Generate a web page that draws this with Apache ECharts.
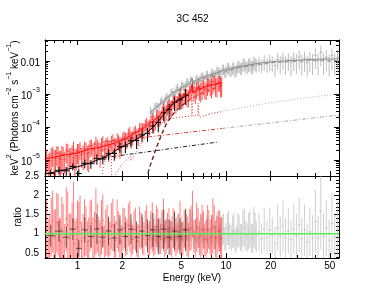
<!DOCTYPE html>
<html><head><meta charset="utf-8">
<script src="https://cdn.jsdelivr.net/npm/echarts@6/dist/echarts.min.js"></script>
<style>html,body{margin:0;padding:0;background:#fff}#c{width:385px;height:298px}</style>
</head><body><div id="c"></div>
<script>
// ---------------- axis ranges and ticks ----------------
const xRange = [0.604, 57.7];
const yTopRange = [3.27e-6, 0.0433];
const yRatioRange = [0.37, 2.5];
const xMajorTicks = [1, 2, 5, 10, 20, 50];
const xMajorLabels = ['1', '2', '5', '10', '20', '50'];
const xMinorTicks = [0.7, 0.8, 0.9, 3, 4, 6, 7, 8, 9, 30, 40];
const yTopMajorTicks = [1e-5, 1e-4, 1e-3, 1e-2];
const yTopMajorLabels = ['{b|10}{s|\u22125}', '{b|10}{s|\u22124}', '{b|10}{s|\u22123}', '{b|0.01}'];
const yTopMinorTicks = [4e-6,5e-6,6e-6,7e-6,8e-6,9e-6,2e-5,3e-5,4e-5,5e-5,6e-5,7e-5,8e-5,9e-5,
  2e-4,3e-4,4e-4,5e-4,6e-4,7e-4,8e-4,9e-4,2e-3,3e-3,4e-3,5e-3,6e-3,7e-3,8e-3,9e-3,0.02,0.03,0.04];
const ratioMajorTicks = [0.5, 1, 1.5, 2, 2.5];
const ratioMajorLabels = ['0.5', '1', '1.5', '2', '2.5'];
const ratioMinorTicks = [0.4,0.6,0.7,0.8,0.9,1.1,1.2,1.3,1.4,1.6,1.7,1.8,1.9,2.1,2.2,2.3,2.4];

// ---------------- data: red group (two interleaved reads) ----------------
const redE = [0.62,0.65,0.68,0.71,0.74,0.77,0.80,0.84,0.88,0.92,0.96,1.00,1.04,1.09,1.14,1.19,1.24,1.30,1.36,1.42,
  1.48,1.55,1.62,1.69,1.77,1.85,1.93,2.02,2.11,2.20,2.30,2.40,2.51,2.62,2.74,2.86,2.99,3.12,3.26,3.40,
  3.55,3.71,3.87,4.04,4.22,4.41,4.60,4.80,5.01,5.23,5.46,5.70,5.95,6.21,6.48,6.76,7.05,7.35,7.66,7.99,
  8.33,8.69,9.06,9.35];
const redFlux = [1.23e-5,9.5e-6,1.57e-5,1.16e-5,1.58e-5,1.04e-5,1.45e-5,1.97e-5,1.29e-5,1.68e-5,
  1.17e-5,1.91e-5,2.24e-5,1.64e-5,2.09e-5,1.70e-5,2.75e-5,2.16e-5,2.69e-5,1.93e-5,
  3.47e-5,2.79e-5,2.45e-5,3.63e-5,2.92e-5,4.31e-5,3.09e-5,4.62e-5,4.27e-5,6.17e-5,
  4.84e-5,6.76e-5,5.62e-5,9.2e-5,8.7e-5,1.20e-4,1.0e-4,1.48e-4,1.41e-4,2.16e-4,
  2.0e-4,2.92e-4,2.75e-4,4.07e-4,3.98e-4,6.17e-4,5.62e-4,7.4e-4,6.9e-4,9.8e-4,
  9.1e-4,1.17e-3,1.70e-3,1.10e-3,1.53e-3,1.38e-3,1.70e-3,1.45e-3,2.02e-3,1.82e-3,
  2.40e-3,1.95e-3,2.34e-3,2.0e-3];
const redRelErr = [0.7,0.8,0.6,0.75,0.65,0.8,0.7,0.6,0.75,0.65,0.8,0.6,0.55,0.7,0.6,0.75,0.5,0.65,0.55,0.7,
  0.5,0.6,0.65,0.5,0.6,0.5,0.65,0.5,0.55,0.45,0.55,0.45,0.5,0.45,0.5,0.4,0.5,0.45,0.55,0.45,
  0.5,0.45,0.55,0.45,0.5,0.45,0.55,0.45,0.5,0.45,0.55,0.5,0.4,0.55,0.45,0.6,0.45,0.55,0.45,0.6,
  0.5,0.6,0.5,0.6];
const redRatio = [1.12,0.83,1.32,0.93,1.23,0.78,1.05,1.38,0.87,1.10,0.74,1.17,1.29,0.89,1.07,0.81,1.26,0.95,1.15,0.79,
  1.35,1.02,0.85,1.20,0.91,1.26,0.83,1.12,0.93,1.23,0.87,1.10,0.81,1.17,0.95,1.15,0.85,1.10,0.89,1.20,
  0.93,1.12,0.87,1.07,0.89,1.15,0.91,1.05,0.87,1.12,0.93,1.10,1.51,0.89,1.15,0.95,1.10,0.87,1.12,0.93,
  1.17,0.91,1.07,0.89];
const redE2 = [0.635,0.665,0.695,0.725,0.755,0.785,0.82,0.86,0.90,0.94,0.98,1.02,1.065,1.115,1.165,1.215,1.27,1.33,1.39,1.45,
  1.515,1.585,1.655,1.73,1.81,1.89,1.975,2.065,2.155,2.25,2.35,2.455,2.565,2.68,2.80,2.925,3.055,3.19,3.33,3.475,
  3.63,3.79,3.955,4.13,4.315,4.505,4.70,4.905,5.12,5.345,5.58,5.825,6.08,6.345,6.62,6.905,7.20,7.505,7.825,8.16,
  8.51,8.875,9.2];
const redFlux2 = [8.8e-6,1.38e-5,1.12e-5,1.63e-5,1.09e-5,1.52e-5,1.08e-5,1.80e-5,1.44e-5,2.09e-5,
  1.36e-5,1.80e-5,1.46e-5,2.19e-5,1.57e-5,2.60e-5,2.0e-5,3.03e-5,2.22e-5,2.92e-5,
  2.10e-5,3.09e-5,2.58e-5,3.84e-5,2.75e-5,3.76e-5,3.05e-5,5.0e-5,4.37e-5,6.41e-5,
  5.0e-5,7.33e-5,5.96e-5,8.9e-5,8.5e-5,1.33e-4,1.12e-4,1.70e-4,1.38e-4,2.14e-4,
  2.04e-4,3.51e-4,3.16e-4,4.73e-4,4.17e-4,6.17e-4,5.89e-4,9.1e-4,7.24e-4,1.01e-3,
  8.5e-4,1.26e-3,1.10e-3,1.51e-3,1.24e-3,1.64e-3,1.38e-3,1.95e-3,1.71e-3,2.40e-3,
  1.82e-3,2.32e-3,1.97e-3];
const redRelErr2 = [0.75,0.65,0.8,0.6,0.7,0.75,0.65,0.7,0.6,0.75,0.65,0.7,0.6,0.65,0.7,0.55,0.6,0.65,0.55,0.6,
  0.55,0.6,0.5,0.55,0.6,0.5,0.55,0.45,0.5,0.55,0.45,0.5,0.55,0.45,0.5,0.45,0.5,0.55,0.45,0.5,
  0.45,0.55,0.5,0.45,0.55,0.5,0.45,0.55,0.5,0.45,0.55,0.5,0.45,0.55,0.5,0.6,0.5,0.55,0.5,0.6,
  0.55,0.5,0.6];
const redRatio2 = [0.79,1.17,0.91,1.29,0.83,1.12,0.76,1.23,0.95,1.35,0.85,1.07,0.81,1.15,0.78,1.20,0.89,1.32,0.93,1.17,
  0.79,1.10,0.87,1.23,0.83,1.05,0.78,1.15,0.91,1.20,0.85,1.12,0.81,1.07,0.87,1.20,0.89,1.17,0.83,1.10,
  0.87,1.23,0.91,1.15,0.85,1.07,0.89,1.20,0.87,1.10,0.83,1.15,0.93,1.17,0.89,1.10,0.85,1.12,0.91,1.20,
  0.87,1.07,0.89];

// ---------------- data: black group ----------------
const blackE = [0.66,0.75,0.84,0.93,1.02,1.12,1.23,1.35,1.48,1.62,1.77,1.93,2.10,2.29,2.50,2.72,2.96,3.22,3.50,3.81,4.14,4.50,4.90,5.35];
const blackFlux = [3.9e-6,4.9e-6,4.7e-6,6.4e-6,3.9e-6,7.9e-6,7.7e-6,1.1e-5,1.07e-5,1.55e-5,1.58e-5,2.54e-5,2.63e-5,3.8e-5,3.9e-5,5.75e-5,6.45e-5,1.07e-4,1.38e-4,2.69e-4,3.39e-4,5.6e-4,6.6e-4,9.3e-4];
const blackRelErr = [0.3,0.25,0.3,0.25,0.35,0.3,0.3,0.35,0.3,0.35,0.4,0.35,0.4,0.35,0.45,0.4,0.45,0.4,0.5,0.45,0.5,0.45,0.5,0.5];
const blackRatio = [0.95,1.07,0.91,1.12,0.62,1.10,0.93,1.12,0.91,1.07,0.89,1.10,0.93,1.12,0.91,1.07,0.95,1.10,0.93,1.12,0.91,1.07,0.93,1.10];

// ---------------- data: grey group (two interleaved reads) ----------------
const grayE = [3.1,3.25,3.4,3.55,3.7,3.85,4.0,4.17,4.35,4.53,4.72,4.92,5.12,5.33,5.55,5.78,6.02,6.27,6.53,6.80,
  7.08,7.37,7.68,8.0,8.33,8.68,9.04,9.42,9.81,10.2,10.6,11.1,11.5,12.0,12.5,13.0,13.6,14.2,14.8,15.4,
  16.0,16.7,17.4,18.1,18.9,19.7,20.5,21.4,22.3,23.2,24.2,25.2,26.3,27.4,28.6,29.8,31.1,32.4,33.8,35.2,
  36.7,38.3,40.0,41.7,43.5,45.4,47.4,49.5,51.7,54.0,56.4];
const grayFlux = [3.13e-4,2.82e-4,4.27e-4,4.22e-4,6.61e-4,6.17e-4,8.32e-4,7.76e-4,1.16e-3,1.10e-3,
  1.60e-3,1.38e-3,1.82e-3,1.74e-3,2.34e-3,2.69e-3,2.11e-3,2.75e-3,2.45e-3,3.31e-3,
  2.99e-3,3.80e-3,3.13e-3,4.17e-3,3.76e-3,5.07e-3,4.52e-3,5.56e-3,4.62e-3,6.17e-3,
  5.31e-3,6.24e-3,5.01e-3,7.08e-3,6.24e-3,8.13e-3,7.0e-3,8.13e-3,7.0e-3,9.44e-3,
  7.76e-3,8.91e-3,7.59e-3,1.0e-2,8.32e-3,1.02e-2,9.12e-3,7.33e-3,1.12e-2,9.23e-3,
  1.20e-2,9.02e-3,1.10e-2,8.81e-3,1.17e-2,1.01e-2,1.32e-2,9.44e-3,1.20e-2,8.75e-3,
  1.16e-2,1.02e-2,1.49e-2,1.01e-2,1.81e-2,1.07e-2,1.32e-2,9.55e-3,1.45e-2,1.05e-2,1.29e-2];
const grayRelErr = [0.3,0.32,0.3,0.28,0.3,0.27,0.3,0.28,0.3,0.27,0.3,0.28,0.27,0.3,0.28,0.3,0.27,0.3,0.28,0.3,
  0.3,0.32,0.3,0.33,0.32,0.35,0.33,0.36,0.35,0.38,0.36,0.4,0.38,0.4,0.38,0.42,0.4,0.44,0.42,0.45,
  0.43,0.47,0.45,0.5,0.48,0.52,0.5,0.55,0.52,0.56,0.55,0.58,0.55,0.6,0.57,0.6,0.58,0.62,0.6,0.62,
  0.6,0.63,0.62,0.64,0.62,0.65,0.63,0.65,0.64,0.65,0.65];
const grayRatio = [1.15,0.85,1.07,0.89,1.20,0.95,1.10,0.87,1.12,0.93,1.17,0.89,1.05,0.91,1.15,1.23,0.89,1.07,0.87,1.10,
  0.93,1.12,0.85,1.07,0.91,1.15,0.95,1.10,0.87,1.12,0.93,1.05,0.81,1.10,0.91,1.15,0.95,1.07,0.89,1.17,
  0.93,1.05,0.87,1.12,0.91,1.10,0.95,0.76,1.15,0.93,1.20,0.89,1.07,0.85,1.12,0.95,1.23,0.87,1.10,0.79,
  1.05,0.91,1.32,0.89,1.58,0.93,1.15,0.83,1.26,0.91,1.12];
const grayE2 = [3.17,3.32,3.47,3.62,3.77,3.92,4.08,4.26,4.44,4.62,4.82,5.02,5.22,5.44,5.66,5.90,6.14,6.40,6.66,6.94,
  7.22,7.52,7.84,8.16,8.50,8.86,9.23,9.61,10.0,10.4,10.85,11.3,11.75,12.25,12.75,13.3,13.9,14.5,15.1,15.7];
const grayFlux2 = [2.66e-4,4.27e-4,4.07e-4,5.75e-4,4.95e-4,7.5e-4,7.5e-4,1.10e-3,9.9e-4,1.40e-3,
  1.27e-3,1.84e-3,1.70e-3,2.32e-3,1.93e-3,2.57e-3,2.09e-3,2.95e-3,2.72e-3,3.55e-3,
  2.95e-3,3.78e-3,3.31e-3,4.5e-3,3.89e-3,4.9e-3,4.17e-3,5.82e-3,5.01e-3,6.43e-3,
  5.19e-3,6.64e-3,5.5e-3,7.11e-3,6.19e-3,8.47e-3,6.79e-3,8.67e-3,6.92e-3,8.75e-3];
const grayRelErr2 = [0.3,0.28,0.3,0.27,0.3,0.28,0.3,0.27,0.28,0.3,0.27,0.3,0.28,0.3,0.27,0.3,0.28,0.3,0.3,0.32,
  0.3,0.32,0.33,0.32,0.34,0.35,0.34,0.36,0.37,0.38,0.37,0.4,0.38,0.4,0.41,0.42,0.41,0.43,0.44,0.45];
const grayRatio2 = [0.89,1.17,0.93,1.12,0.83,1.07,0.91,1.15,0.89,1.10,0.87,1.12,0.93,1.17,0.91,1.12,0.85,1.10,0.93,1.15,
  0.89,1.07,0.87,1.12,0.91,1.07,0.85,1.12,0.93,1.15,0.89,1.10,0.87,1.07,0.89,1.17,0.91,1.12,0.87,1.07];

// ---------------- model curves ----------------
const redModelE = [0.6,0.7,0.82,1.0,1.2,1.4,1.6,1.8,2.0,2.25,2.65,3.1,3.45,3.9,4.4,4.9,5.7,5.84,5.92,6.0,6.45,6.53,6.6,6.7,7.8,9.35];
const redModelF = [1.07e-5,1.23e-5,1.42e-5,1.63e-5,2.15e-5,2.39e-5,2.85e-5,3.27e-5,4.04e-5,5.33e-5,8.1e-5,1.32e-4,1.87e-4,3.27e-4,5.33e-4,7.57e-4,1.07e-3,1.1e-3,1.9e-3,1.13e-3,1.33e-3,1.7e-3,1.38e-3,1.42e-3,1.87e-3,2.2e-3];
const blackModelE = [0.6,0.76,0.99,1.21,1.42,1.66,1.93,2.26,2.64,2.93,3.43,3.88,4.33,4.9,5.6];
const blackModelF = [3.77e-6,4.64e-6,6.14e-6,8.1e-6,1.07e-5,1.52e-5,2.31e-5,3.27e-5,4.98e-5,6.58e-5,1.32e-4,2.65e-4,4.64e-4,7.05e-4,9.3e-4];
const grayModelE = [3.08,3.59,4.39,5.72,5.84,5.92,6.0,6.68,7.8,9.55,12.4,16.2,21.4,27,36.8,45,57.7];
const grayModelF = [2.65e-4,4.98e-4,1.07e-3,2.15e-3,2.2e-3,3.0e-3,2.25e-3,2.95e-3,3.77e-3,5.15e-3,6.8e-3,8.4e-3,9.66e-3,1.035e-2,1.11e-2,1.15e-2,1.15e-2];
// reflection (dotted)
const reflRedE = [1.45,1.50,1.58,1.69,1.70,1.74,1.85,2.0,2.27,2.29,2.45,2.65,3.0,3.4,3.8,4.2,4.8,5.5,5.86,5.89,5.95,5.98,6.46,6.49,6.57,6.60,7.2,8.0,9.35];
const reflRedF = [2.5e-6,7.0e-6,1.2e-5,1.45e-5,2.0e-6,2.5e-6,4.5e-6,7.5e-6,1.3e-5,9.5e-6,1.6e-5,3.0e-5,5.5e-5,1.0e-4,1.45e-4,1.75e-4,1.95e-4,2.1e-4,2.15e-4,1.15e-3,1.15e-3,2.15e-4,2.25e-4,5.3e-4,5.3e-4,1.95e-4,2.2e-4,2.55e-4,2.9e-4];
const reflGrayE = [7.0,8.7,12,16.2,22,30,40,57.7];
const reflGrayF = [2.2e-4,2.85e-4,3.6e-4,4.64e-4,5.8e-4,7.0e-4,8.3e-4,1.02e-3];
// scattered power law (dash-dot)
const scatRedE = [1.5, 9.35];   const scatRedF = [3.5e-5, 9.0e-5];
const scatGrayE = [9.35, 57.7]; const scatGrayF = [9.0e-5, 2.3e-4];
const scatBlackE = [1.48, 8.84]; const scatBlackF = [1.15e-5, 3.5e-5];
// absorbed power law (dashed)
const plRedE = [2.9,3.1,3.4,3.7,4.0,4.5,5.0,5.7,6.7,7.8,9.35];
const plRedF = [2.5e-6,7.5e-6,2.5e-5,6.5e-5,1.4e-4,2.9e-4,4.5e-4,7.0e-4,1.0e-3,1.35e-3,1.75e-3];
const plBlackE = [2.88,3.1,3.4,3.7,4.0,4.5,5.0,5.6];
const plBlackF = [2.5e-6,7.0e-6,2.3e-5,6.0e-5,1.3e-4,2.7e-4,4.2e-4,6.3e-4];
const plGrayE = [4.4,5.7,7.8,12.4,21,36,57.7];
const plGrayF = [8.6e-4,1.86e-3,3.42e-3,6.35e-3,9.0e-3,1.02e-2,1.03e-2];
// unity line in ratio panel
const unityE = [0.604, 57.7]; const unityR = [1, 1];

// ---------------- build ----------------
const L = Math.log10;
const FONT = '"Liberation Sans", Arial, Helvetica, sans-serif';

// merge interleaved reads into one table sorted by energy
function mergeSets(sets) {
  const rows = [];
  sets.forEach(s => s.E.forEach((e, i) => rows.push({e: e, f: s.F[i], r: s.R[i], err: s.err[i]})));
  rows.sort((a, b) => a.e - b.e);
  return rows;
}
function binEdges(rows, i) {
  const E = rows.map(r => r.e);
  const lo = i > 0 ? Math.sqrt(E[i-1]*E[i]) : E[i]*E[i]/Math.sqrt(E[i]*E[i+1]);
  const hi = i < E.length-1 ? Math.sqrt(E[i]*E[i+1]) : E[i]*E[i]/Math.sqrt(E[i-1]*E[i]);
  return [lo, hi];
}
function fluxData(rows) {
  return rows.map((r, i) => { const [lo, hi] = binEdges(rows, i);
    return [L(r.e), L(r.f), L(lo), L(hi), L(r.f*(1-r.err)), L(r.f*(1+r.err))]; });
}
function ratioData(rows) {
  return rows.map((r, i) => { const [lo, hi] = binEdges(rows, i);
    return [L(r.e), r.r, L(lo), L(hi), r.r*(1-r.err), r.r*(1+r.err)]; });
}
const redRows = mergeSets([{E:redE, F:redFlux, R:redRatio, err:redRelErr}, {E:redE2, F:redFlux2, R:redRatio2, err:redRelErr2}]);
const grayRows = mergeSets([{E:grayE, F:grayFlux, R:grayRatio, err:grayRelErr}, {E:grayE2, F:grayFlux2, R:grayRatio2, err:grayRelErr2}]);
const blackRows = mergeSets([{E:blackE, F:blackFlux, R:blackRatio, err:blackRelErr}]);

function crossRender(color) {
  return function (params, api) {
    const cs = params.coordSys;
    const top = cs.y, bot = cs.y + cs.height, left = cs.x, right = cs.x + cs.width;
    const p = api.coord([api.value(0), api.value(1)]);
    const pl = api.coord([api.value(2), api.value(1)]);
    const ph = api.coord([api.value(3), api.value(1)]);
    const pa = api.coord([api.value(0), api.value(4)]);
    const pb = api.coord([api.value(0), api.value(5)]);
    const ch = [];
    if (p[1] >= top && p[1] <= bot) {
      ch.push({type:'line', shape:{x1:Math.max(pl[0], left), y1:p[1], x2:Math.min(ph[0], right), y2:p[1]},
        style:{stroke:color, lineWidth:1}});
    }
    const y1 = Math.max(Math.min(pa[1], pb[1]), top), y2 = Math.min(Math.max(pa[1], pb[1]), bot);
    if (y2 > y1) ch.push({type:'line', shape:{x1:p[0], y1:y1, x2:p[0], y2:y2}, style:{stroke:color, lineWidth:1}});
    return {type:'group', children: ch};
  };
}
function errSeries(data, color, xi, yi, z) {
  return {type:'custom', xAxisIndex:xi, yAxisIndex:yi, data:data, renderItem:crossRender(color),
    encode:{x:0, y:1}, silent:true, z:z, animation:false};
}
function lineSeries(E, V, color, type, xi, yi, logY, z, width) {
  return {type:'line', xAxisIndex:xi, yAxisIndex:yi, showSymbol:false, symbol:'none', silent:true, clip:true,
    data: E.map((e, i) => [L(e), logY ? L(V[i]) : V[i]]),
    lineStyle:{color:color, width:width || 1, type:type}, z:z, animation:false};
}

const labelStyle = {color:'#000', fontSize:10, fontFamily:FONT};
function lookup(vals, labels) {
  return function (v) { for (let i = 0; i < vals.length; i++) if (Math.abs(vals[i]-v) < 1e-6) return labels[i]; return ''; };
}
function xAx(grid, pos, ticks, len, line, labels) {
  const o = {type:'value', gridIndex:grid, position:pos, min:L(xRange[0]), max:L(xRange[1]),
    splitLine:{show:false},
    axisLine:{show:line, onZero:false, lineStyle:{color:'#000', width:1}},
    axisTick:{show:true, inside:true, length:len, customValues:ticks.map(L), lineStyle:{color:'#000', width:1}},
    axisLabel:{show:false}};
  if (labels) {
    o.axisLabel = Object.assign({show:true, margin:3, customValues:xMajorTicks.map(L),
      formatter: lookup(xMajorTicks.map(L), xMajorLabels)}, labelStyle);
    o.name = 'Energy (keV)'; o.nameLocation = 'middle'; o.nameGap = 15; o.nameMoveOverlap = false;
    o.nameTextStyle = {color:'#000', fontSize:10, fontFamily:FONT};
  }
  return o;
}
function yAx(grid, pos, range, ticks, len, line, log) {
  return {type:'value', gridIndex:grid, position:pos, min: log ? L(range[0]) : range[0], max: log ? L(range[1]) : range[1],
    splitLine:{show:false},
    axisLine:{show:line, onZero:false, lineStyle:{color:'#000', width:1}},
    axisTick:{show:true, inside:true, length:len, customValues: log ? ticks.map(L) : ticks, lineStyle:{color:'#000', width:1}},
    axisLabel:{show:false}};
}

const xAxes = [
  xAx(0, 'bottom', xMajorTicks, 5, true), xAx(0, 'bottom', xMinorTicks, 3, false),
  xAx(0, 'top', xMajorTicks, 5, true), xAx(0, 'top', xMinorTicks, 3, false),
  xAx(1, 'bottom', xMajorTicks, 5, true, true), xAx(1, 'bottom', xMinorTicks, 3, false),
  xAx(1, 'top', xMajorTicks, 5, true), xAx(1, 'top', xMinorTicks, 3, false)
];
const richStyle = {b:{fontSize:10, fontFamily:FONT, color:'#000', lineHeight:14, verticalAlign:'bottom'},
                   s:{fontSize:7, fontFamily:FONT, color:'#000', lineHeight:8, verticalAlign:'top'}};
const y0 = yAx(0, 'left', yTopRange, yTopMajorTicks, 5, true, true);
y0.axisLabel = {show:true, margin:5, customValues:yTopMajorTicks.map(L),
  formatter: lookup(yTopMajorTicks.map(L), yTopMajorLabels), rich:richStyle};
y0.name = '{b|keV}{s|2}{b| (Photons cm}{s|\u22122}{b| s}{s|\u22121}{b| keV}{s|\u22121}{b|)}';
y0.nameLocation = 'middle'; y0.nameGap = 25; y0.nameMoveOverlap = false;
y0.nameTextStyle = {rich:richStyle};
const y4 = yAx(1, 'left', yRatioRange, ratioMajorTicks, 5, true, false);
y4.axisLabel = Object.assign({show:true, margin:6, customValues:ratioMajorTicks,
  formatter: lookup(ratioMajorTicks, ratioMajorLabels)}, labelStyle);
y4.name = 'ratio'; y4.nameLocation = 'middle'; y4.nameGap = 22; y4.nameMoveOverlap = false;
y4.nameTextStyle = {color:'#000', fontSize:10, fontFamily:FONT};
const yAxes = [
  y0, yAx(0, 'left', yTopRange, yTopMinorTicks, 3, false, true),
  yAx(0, 'right', yTopRange, yTopMajorTicks, 5, true, true), yAx(0, 'right', yTopRange, yTopMinorTicks, 3, false, true),
  y4, yAx(1, 'left', yRatioRange, ratioMinorTicks, 3, false, false),
  yAx(1, 'right', yRatioRange, ratioMajorTicks, 5, true, false), yAx(1, 'right', yRatioRange, ratioMinorTicks, 3, false, false)
];

const series = [
  errSeries(fluxData(grayRows), 'rgba(165,165,165,0.75)', 0, 0, 2),
  errSeries(fluxData(redRows), 'rgba(255,0,0,0.7)', 0, 0, 3),
  errSeries(fluxData(blackRows), '#000', 0, 0, 4),
  lineSeries(reflRedE, reflRedF, 'rgba(220,40,40,0.9)', [1, 2], 0, 0, true, 5),
  lineSeries(reflGrayE, reflGrayF, '#b0b0b0', [1, 2], 0, 0, true, 5),
  lineSeries(scatRedE, scatRedF, 'rgba(220,40,40,0.9)', [4, 2, 1, 2], 0, 0, true, 5),
  lineSeries(scatGrayE, scatGrayF, '#a8a8a8', [4, 2, 1, 2], 0, 0, true, 5),
  lineSeries(scatBlackE, scatBlackF, '#222', [4, 2, 1, 2], 0, 0, true, 5),
  lineSeries(plRedE, plRedF, '#ee2020', [4, 3], 0, 0, true, 6),
  lineSeries(plBlackE, plBlackF, '#222', [4, 3], 0, 0, true, 6),
  lineSeries(plGrayE, plGrayF, '#999', [4, 3], 0, 0, true, 5),
  lineSeries(grayModelE, grayModelF, '#8a8a8a', 'solid', 0, 0, true, 7),
  lineSeries(redModelE, redModelF, '#ff0000', 'solid', 0, 0, true, 7),
  lineSeries(blackModelE, blackModelF, '#000', 'solid', 0, 0, true, 7),
  errSeries(ratioData(grayRows), 'rgba(175,175,175,0.6)', 4, 4, 2),
  errSeries(ratioData(redRows), 'rgba(255,0,0,0.5)', 4, 4, 3),
  errSeries(ratioData(blackRows), 'rgba(40,40,40,0.7)', 4, 4, 4),
  lineSeries(unityE, unityR, '#55ee55', 'solid', 4, 4, false, 8, 1.5)
];

const chart = echarts.init(document.getElementById('c'), null, {renderer:'canvas'});
chart.setOption({
  animation:false,
  backgroundColor:'#fff',
  title:{text:'3C 452', left:'center', top:14, padding:0,
    textStyle:{fontSize:10, fontWeight:'normal', color:'#000', fontFamily:FONT}},
  grid:[{left:45, top:40, width:294, height:136, outerBoundsMode:'none', containLabel:false},
        {left:45, top:176, width:294, height:82, outerBoundsMode:'none', containLabel:false}],
  xAxis:xAxes, yAxis:yAxes, series:series
});
</script></body></html>
